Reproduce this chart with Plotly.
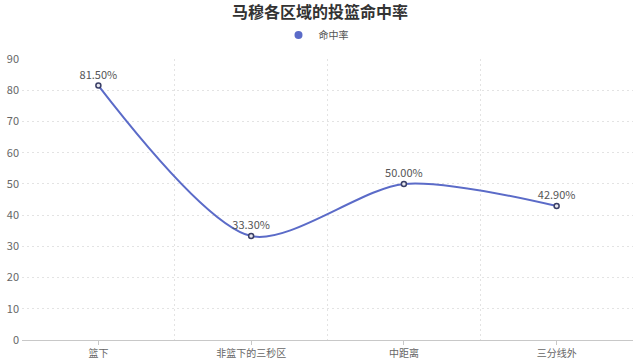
import plotly.graph_objects as go

categories = ["篮下", "非篮下的三秒区", "中距离", "三分线外"]
values = [81.5, 33.3, 50.0, 42.9]
labels = ["81.50%", "33.30%", "50.00%", "42.90%"]
yticks = [0, 10, 20, 30, 40, 50, 60, 70, 80, 90]

xs = list(range(len(categories)))
font = "Noto Sans CJK SC"
line_color = "#5b6bc8"

fig = go.Figure()
fig.add_trace(go.Scatter(
    x=xs, y=values, mode="lines+markers+text", name="命中率", showlegend=False,
    line=dict(color=line_color, width=2, shape="spline", smoothing=0.8),
    marker=dict(size=5, color="#e8e8f0", line=dict(color="#3a3f66", width=1.5), symbol="circle"),
    text=labels, textposition="top center",
    textfont=dict(size=11, color="#555555", family=font),
    cliponaxis=False,
))
# legend entry (circle icon only)
fig.add_trace(go.Scatter(
    x=[None], y=[None], mode="markers", name="命中率",
    marker=dict(size=8, color=line_color, symbol="circle"),
))

fig.update_layout(
    width=640, height=360,
    margin=dict(l=22, r=7, t=59, b=20, autoexpand=False),
    paper_bgcolor="white", plot_bgcolor="white",
    font=dict(family=font, color="#666666", size=11),
    title=dict(text="<b>马穆各区域的投篮命中率</b>", xref="container", x=0.5, xanchor="center",
               yref="container", y=1 - 12.5 / 360, yanchor="middle",
               font=dict(size=16, color="#333333", family=font)),
    showlegend=True,
    legend=dict(orientation="h", xref="container", x=316 / 640, xanchor="center",
                yref="container", y=1 - 35 / 360, yanchor="middle",
                font=dict(size=10, color="#555555", family=font), itemwidth=30,
                bgcolor="rgba(0,0,0,0)"),
    xaxis=dict(
        range=[-0.5, 3.5], tickmode="array", tickvals=xs, ticktext=categories,
        showgrid=False, zeroline=False, showline=True, linecolor="#c8c8c8", linewidth=1,
        ticks="outside", ticklen=4, tickcolor="#c8c8c8", automargin=False,
        tickfont=dict(size=10, color="#666666"),
        minor=dict(tickvals=[0.5, 1.5, 2.5], showgrid=True, gridcolor="#e3e3e3",
                   griddash="2px,3px", ticks=""),
    ),
    yaxis=dict(
        range=[0, 90], tickmode="array", tickvals=yticks, automargin=False,
        showgrid=True, gridcolor="#e3e3e3", griddash="2px,3px", zeroline=False, showline=False,
        tickfont=dict(size=11, color="#666666"), ticks="", ticklabelstandoff=2,
    ),
)

fig.write_html("out.html", config={"displayModeBar": False},
               post_script="document.body.style.margin='0';document.body.style.overflow='hidden';")
